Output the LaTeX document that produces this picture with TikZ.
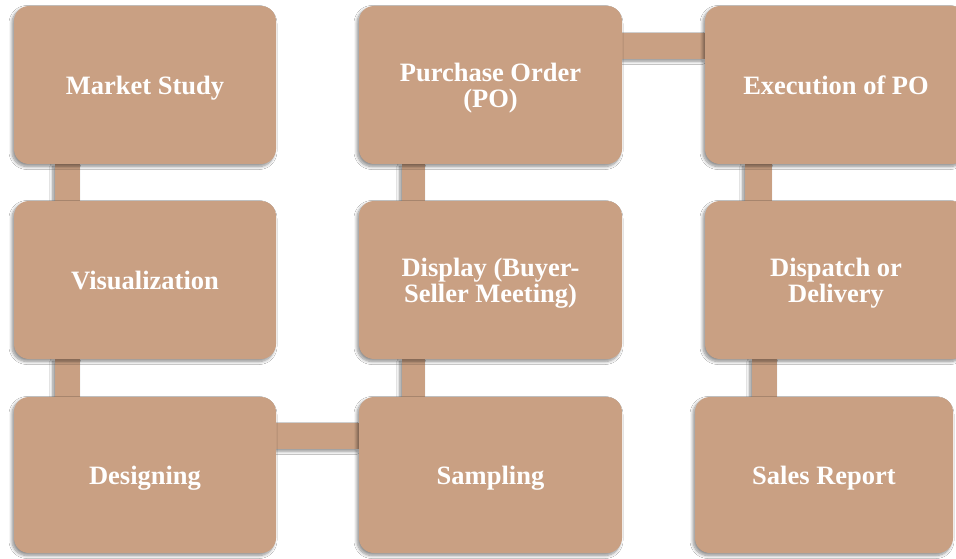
\documentclass[tikz,border=0pt]{standalone}
\usepackage{fontspec}
\setmainfont{Liberation Serif}
\usetikzlibrary{shadows.blur}
\definecolor{boxfill}{RGB}{201,160,131}
\tikzset{
  softshadow/.style={blur shadow={shadow xshift=-2pt, shadow yshift=-2.5pt,
      shadow blur radius=3pt, shadow blur steps=8, shadow opacity=45}},
  slot/.style={rectangle, inner sep=0pt,
      minimum width=262pt, minimum height=158pt},
  stage/.style={slot, rounded corners=15pt, fill=boxfill, softshadow,
      align=center, text=white, text depth=0pt,
      font=\fontsize{26.5}{26}\selectfont\bfseries},
  wide/.style={minimum width=263pt},
  low/.style={minimum height=156pt},
  link/.style={fill=boxfill, softshadow}
}
\begin{document}
\begin{tikzpicture}[x=1pt, y=-1pt]
  \clip (0,0) rectangle (956,559);
  \fill[white] (0,0) rectangle (956,559);

  % where the nine stages sit
  \path
    (145,85)    node[slot] (ms)  {}
    (145,280)   node[slot] (vis) {}
    (145,475)   node[slot, low] (ds) {}
    (490.5,475) node[slot, wide, low] (sa) {}
    (490.5,280) node[slot, wide] (dbs) {}
    (490.5,85)  node[slot, wide] (po) {}
    (836,85)    node[slot] (ex)  {}
    (836,280)   node[slot] (dd)  {}
    (824,475)   node[slot, minimum width=258pt, low] (sr) {};

  % links between consecutive stages, drawn before the boxes
  \fill[link] ([xshift=41pt]ms.south west) rectangle ([xshift=66pt]vis.north west);
  \fill[link] ([xshift=41pt]vis.south west) rectangle ([xshift=66pt]ds.north west);
  \fill[link] ([yshift=-26pt]ds.north east) rectangle ([yshift=-52pt]sa.north west);
  \fill[link] ([xshift=43pt]sa.north west) rectangle ([xshift=66pt]dbs.south west);
  \fill[link] ([xshift=43pt]dbs.north west) rectangle ([xshift=66pt]po.south west);
  \fill[link] ([yshift=-27pt]po.north east) rectangle ([yshift=-53pt]ex.north west);
  \fill[link] ([xshift=40pt]ex.south west) rectangle ([xshift=67pt]dd.north west);
  \fill[link] ([xshift=47pt]dd.south west) rectangle ([xshift=82pt]sr.north west);

  % the stage boxes with their labels
  \node[stage] at (ms)  {Market Study};
  \node[stage] at (vis) {Visualization};
  \node[stage, low] at (ds) {Designing};
  \node[stage, wide, low] at (sa) {Sampling};
  \node[stage, wide] at (dbs) {Display (Buyer-\\Seller Meeting)};
  \node[stage, wide] at (po) {Purchase Order\\(PO)};
  \node[stage] at (ex) {Execution of PO};
  \node[stage] at (dd) {Dispatch or\\Delivery};
  \node[stage, minimum width=258pt, low] at (sr) {Sales Report};
\end{tikzpicture}
\end{document}
